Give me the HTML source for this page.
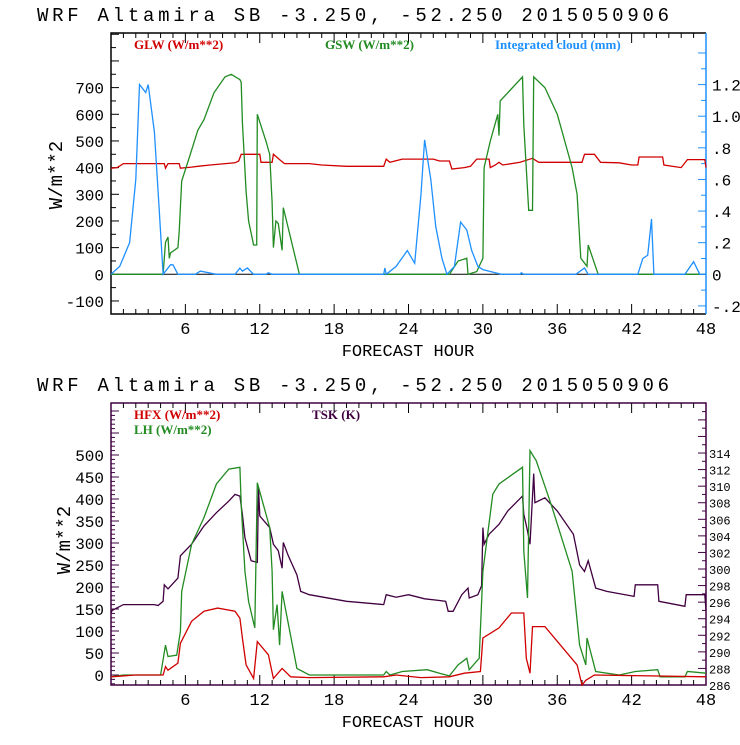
<!DOCTYPE html>
<html><head><meta charset="utf-8"><style>
html,body{margin:0;padding:0;background:#fff;}
svg text{font-family:"Liberation Mono",monospace;}
</style></head><body>
<svg id="c" width="740" height="740" viewBox="0 0 740 740" xmlns="http://www.w3.org/2000/svg">
<rect width="740" height="740" fill="#fff"/>
<g id="top"></g>
<g id="bot"></g>
</svg>
<script>
// ===== Top panel data =====
const glwHours = [0,0.5,1,4.3,4.4,4.6,5.5,5.6,6.5,7,8,10,10.3,10.5,12,12.1,13,13.1,13.6,14,16,17,19,22,22.2,22.5,23.5,26,26.5,27.3,27.5,28.5,29,29.5,30.5,30.6,31,31.3,31.6,33,34,34.5,38,38.2,39,39.5,41,42,42.5,42.6,44.5,44.6,46,46.5,47.9,48];
const glwValues = [398,400,415,415,398,415,415,398,402,405,410,418,425,450,450,420,420,450,430,415,415,410,405,405,432,420,432,432,425,425,395,400,405,432,432,400,410,420,410,420,435,420,420,450,450,420,418,410,410,440,440,410,400,430,430,400];
const gswHours = [0,4.2,4.4,4.6,4.7,4.8,5.4,5.5,5.7,6.4,7,7.5,8.3,9.2,9.7,10.4,10.5,10.6,10.9,11.1,11.5,11.75,11.8,12.5,12.8,13,13.1,13.3,13.5,13.8,13.9,15.2,27.3,28,28.7,28.8,29.5,30,30.1,30.6,31.2,31.3,31.4,33.2,33.3,33.7,34.0,34.1,35,36,37.2,37.6,37.9,38.4,38.5,39.3,48];
const gswValues = [0,0,120,140,60,80,100,160,350,450,540,580,680,740,750,730,720,570,310,200,110,110,600,500,450,270,100,200,190,90,250,0,0,50,60,0,10,60,400,500,600,520,650,740,560,240,240,740,700,600,400,300,60,30,110,0,0];
const cloudHours = [0,0.7,1.5,2,2.3,2.8,3,3.5,3.9,4.2,4.8,5,5.4,6.8,7.2,8.5,10,10.4,10.6,11,11.5,12.5,12.7,13,22,22.1,22.2,23,23.9,24.5,25,25.3,25.8,26.2,26.7,27.1,27.7,28.2,28.7,29.1,29.6,30,31,31.5,33,33.1,33.3,37.5,38.2,38.5,42.5,42.9,43.3,43.6,43.8,46.3,47,47.5,48];
const cloudValues = [0,0.05,0.2,0.6,1.2,1.15,1.2,0.9,0.4,0,0.06,0.06,0,0,0.02,0,0,0.04,0.02,0.04,0,0,0.01,0,0,0.04,0,0.05,0.15,0.07,0.5,0.85,0.6,0.3,0.1,0,0.05,0.33,0.28,0.15,0.05,0.03,0.01,0,0,0.01,0,0,0.04,0,0,0.1,0.12,0.35,0,0,0.08,0,0];
const topLeftTicks = [-100,0,100,200,300,400,500,600,700];
const topRightTicks = [-0.2,0,0.2,0.4,0.6,0.8,1.0,1.2];
const topRightLabels = ["-.2","0",".2",".4",".6",".8","1.0","1.2"];
const xTicks = [6,12,18,24,30,36,42,48];

// ===== Bottom panel data =====
const tskHours = [0,0.1,1,3.5,3.8,4.2,4.3,4.6,5.4,5.6,6.5,7.5,8.5,9.5,10,10.4,10.6,10.8,11.3,11.8,11.9,12,12.8,13.1,13.5,13.8,13.9,14.3,15,15.3,16,19,22,22.2,23,24,25.3,26.5,27,27.2,27.6,28.3,28.8,28.9,29.6,29.9,30,30.1,30.5,31.3,32,33.2,33.3,33.6,33.8,34.1,34.2,35,36,37.3,37.8,38.2,38.5,39.1,40,42.2,42.3,44.1,44.2,46.3,46.4,47.9,48];
const tskValues = [294.7,295,295.7,295.7,295.6,296.1,298.1,297.6,298.9,301.6,303,305.2,306.8,308.2,309,308.8,306.6,303.8,301,300.8,309.8,306.4,305,303,302.2,300.1,303.2,301.6,299.3,297.3,296.9,296.1,295.7,296.9,296.6,296.9,296.4,296.2,296.1,294.9,294.9,296.9,297.7,296.5,296.9,298,305,303,304.2,305.4,307,308.8,306.6,304.6,303,311.5,308,308.6,307,304.2,300.5,299.7,301,297.7,297.3,296.7,298.1,298.1,296.1,295.5,296.9,296.9,295];
const lhHours = [0,1,4,4.4,4.6,5.3,5.6,5.7,6.5,7.5,8.5,9.5,10.4,10.5,10.8,11.1,11.6,11.8,12.8,13,13.1,13.4,13.6,13.8,15,16,22,22.2,22.5,23.5,25.5,26.5,27.3,28,28.7,28.9,29.7,30,30.8,31.3,33.2,33.3,33.6,33.8,34.3,35.5,37.2,37.8,38.3,38.4,39.1,41,42.3,44.1,44.3,46.3,46.5,48];
const lhValues = [-4,0,0,68,42,45,99,190,297,358,434,468,472,388,236,167,107,437,335,236,103,160,68,190,15,0,0,8,0,8,12,4,-2,23,38,12,38,236,411,434,472,281,175,510,487,388,236,68,23,84,8,0,8,12,-4,-4,8,4];
const hfxHours = [0,2,4.2,4.4,4.6,5.4,5.6,6.5,7.5,8.6,10,10.4,10.6,10.9,11.5,11.8,12.7,13.1,13.8,14.5,16,22,23,25,27.3,28.5,29.8,30,31.3,32.3,33.3,33.5,33.8,34,35,37.6,38,38.3,39,48];
const hfxValues = [-4,0,0,19,11,27,72,122,145,152,145,129,84,23,-8,76,46,-8,15,-4,-6,-4,0,-6,-4,4,8,84,107,141,141,38,4,110,110,23,-23,-12,0,-4];
const botLeftTicks = [0,50,100,150,200,250,300,350,400,450,500];
const botRightTicks = [286,288,290,292,294,296,298,300,302,304,306,308,310,312,314];

const NS="http://www.w3.org/2000/svg";
function mk(parent,tag,attrs){const e=document.createElementNS(NS,tag);for(const k in attrs)e.setAttribute(k,attrs[k]);parent.appendChild(e);return e;}
const X0=111,X1=706;
function xs(h){return X0+(X1-X0)*h/48;}

function line(g,hours,vals,yf,color,name){
  let d="";
  for(let i=0;i<hours.length;i++){d+=(i?"L":"M")+xs(hours[i]).toFixed(1)+","+yf(vals[i]).toFixed(1);}
  const p=mk(g,"path",{d:d,fill:"none",stroke:color,"stroke-width":1.3});
  
  
}

function xAxis(g,Y0,Y1){
  for(let h=1;h<48;h++){
    const len=(h%6===0)?10:5;
    mk(g,"line",{x1:xs(h),y1:Y1,x2:xs(h),y2:Y1-len,stroke:"#000","stroke-width":1});
    mk(g,"line",{x1:xs(h),y1:Y0,x2:xs(h),y2:Y0+len,stroke:"#000","stroke-width":1});
  }
  xTicks.forEach(t=>{
    const tx=mk(g,"text",{x:xs(t),y:Y1+20,"font-size":17,"text-anchor":"middle",fill:"#000"});
    tx.textContent=t;
    
    
  });
  const xt=mk(g,"text",{x:408,y:Y1+42,"font-size":17,"text-anchor":"middle",fill:"#000"});
  xt.textContent="FORECAST HOUR";
  
  
}

function title(g,y){
  const t=mk(g,"text",{x:37,y:y,"font-size":19,fill:"#000",textLength:632,lengthAdjust:"spacing"});
  t.textContent="WRF  Altamira  SB  -3.250, -52.250  2015050906";
  
  
}

// ===== TOP =====
(function(){
  const g=document.getElementById("top");
  const Y0=33,Y1=314;
  const yl=v=>274.3-v*0.2667;
  const yr=v=>274.3-v*158.1;
  title(g,21);
  mk(g,"path",{d:`M${X1},${Y0}H${X0}V${Y1}H${X1}`,fill:"none",stroke:"#000","stroke-width":1.5});
  mk(g,"line",{x1:X1,y1:Y0,x2:X1,y2:Y1,stroke:"#1e90ff","stroke-width":1.5});
  xAxis(g,Y0,Y1);
  for(let v=-150;v<=900;v+=50){const y=yl(v);if(y<Y0||y>Y1)continue;
    mk(g,"line",{x1:X0,y1:y,x2:X0+(v%100===0?8:5),y2:y,stroke:"#000"});}
  topLeftTicks.forEach(v=>{const t=mk(g,"text",{x:104,y:yl(v)+6,"font-size":16,"text-anchor":"end",fill:"#000"});t.textContent=v;
    
    });
  for(let k=-2;k<=14;k++){const v=k/10;const y=yr(v);if(y<Y0||y>Y1)continue;
    mk(g,"line",{x1:X1,y1:y,x2:X1-(k%2===0?8:5),y2:y,stroke:"#1e90ff"});}
  topRightTicks.forEach((v,i)=>{const t=mk(g,"text",{x:712,y:yr(v)+6,"font-size":16,fill:"#000"});t.textContent=topRightLabels[i];
    
    });
  const yt=mk(g,"text",{x:0,y:0,"font-size":19,"text-anchor":"middle",fill:"#000",transform:"translate(62,175) rotate(-90)"});
  yt.textContent="W/m**2";
  
  
  mk(g,"line",{x1:X0,y1:yl(0),x2:X1,y2:yl(0),stroke:"#000","stroke-width":1});
  const leg=[["GLW (W/m**2)",134,"#d00000"],["GSW (W/m**2)",325,"#228b22"],["Integrated cloud (mm)",495,"#1e90ff"]];
  leg.forEach(l=>{const t=mk(g,"text",{x:l[1],y:49,"font-size":13,"font-weight":"bold",fill:l[2],style:'font-family:"Liberation Serif",serif'});t.textContent=l[0];
    
    });
  line(g,glwHours,glwValues,yl,"#d00000","glw-line");
  line(g,gswHours,gswValues,yl,"#228b22","gsw-line");
  line(g,cloudHours,cloudValues,yr,"#1e90ff","cloud-line");
})();

// ===== BOTTOM =====
(function(){
  const g=document.getElementById("bot");
  const Y0=403,Y1=685;
  const yl=v=>675-v*0.44;
  const yr=k=>685-(k-286)*8.285;
  title(g,391);
  const pc="#400040";
  mk(g,"rect",{x:X0,y:Y0,width:X1-X0,height:Y1-Y0,fill:"none",stroke:pc,"stroke-width":1.5});
  xAxis(g,Y0,Y1);
  for(let v=-20;v<=600;v+=10){const y=yl(v);if(y<Y0||y>Y1)continue;
    mk(g,"line",{x1:X0,y1:y,x2:X0+(v%50===0?8:4),y2:y,stroke:pc});}
  botLeftTicks.forEach(v=>{const t=mk(g,"text",{x:104,y:yl(v)+6,"font-size":16,"text-anchor":"end",fill:"#000"});t.textContent=v;
    
    });
  for(let k=286;k<=319;k++){const y=yr(k);if(y<Y0||y>Y1)continue;
    mk(g,"line",{x1:X1,y1:y,x2:X1-(k%2===0?8:4),y2:y,stroke:pc});}
  botRightTicks.forEach(v=>{const t=mk(g,"text",{x:709,y:yr(v)+5,"font-size":12,fill:"#000"});t.textContent=v;
    
    });
  const yt=mk(g,"text",{x:0,y:0,"font-size":19,"text-anchor":"middle",fill:"#000",transform:"translate(70,540) rotate(-90)"});
  yt.textContent="W/m**2";
  
  
  const leg=[["HFX (W/m**2)",134,419,"#d00000"],["LH  (W/m**2)",134,434,"#228b22"],["TSK (K)",312,419,"#400040"]];
  leg.forEach(l=>{const t=mk(g,"text",{x:l[1],y:l[2],"font-size":13,"font-weight":"bold",fill:l[3],style:'font-family:"Liberation Serif",serif'});t.textContent=l[0];
    
    });
  line(g,tskHours,tskValues,yr,"#400040","tsk-line");
  line(g,lhHours,lhValues,yl,"#228b22","lh-line");
  line(g,hfxHours,hfxValues,yl,"#d00000","hfx-line");
})();
</script>
</body></html>
